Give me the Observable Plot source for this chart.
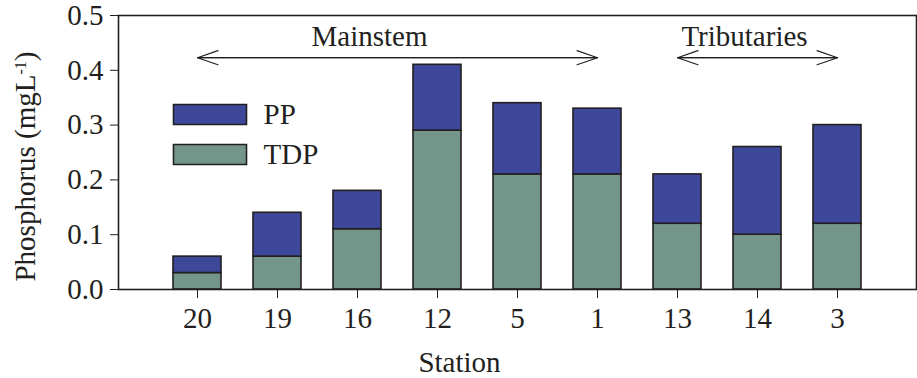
<!DOCTYPE html>
<html><head><meta charset="utf-8">
<script src="https://cdn.jsdelivr.net/npm/d3@7"></script>
<script src="https://cdn.jsdelivr.net/npm/@observablehq/plot@0.6"></script>
<style>body{margin:0;background:#fff}</style>
</head><body><div id="chart"></div>
<script>
// ---- data ----
const stations = ["20", "19", "16", "12", "5", "1", "13", "14", "3"];
const tdp = [0.03, 0.06, 0.11, 0.29, 0.21, 0.21, 0.12, 0.10, 0.12];
const pp  = [0.03, 0.08, 0.07, 0.12, 0.13, 0.12, 0.09, 0.16, 0.18];
const seriesNames = ["TDP", "PP"];
const seriesColors = ["#74968a", "#3d489b"];
const legendOrder = ["PP", "TDP"];
const yTicks = [0, 0.1, 0.2, 0.3, 0.4, 0.5];
const groupNames = ["Mainstem", "Tributaries"];
const groupFrom = ["20", "13"];
const groupTo = ["1", "3"];
const groupLabelAt = ["16", "14"];
const xLabel = "Station";
const yLabel = "Phosphorus (mgL-1)";

const rows = stations.flatMap((s, i) => [
  {station: s, type: "TDP", value: tdp[i]},
  {station: s, type: "PP", value: pp[i]}
]);
const groups = groupNames.map((g, i) => ({name: g, from: groupFrom[i], to: groupTo[i], at: groupLabelAt[i]}));

const ink = "#231f20";
const rectSymbol = {draw(ctx) { ctx.rect(-36.5, -10, 73, 20); }};
const colorOf = Object.fromEntries(seriesNames.map((s, i) => [s, seriesColors[i]]));

const legendMarks = legendOrder.flatMap((name, i) => [
  Plot.dot([name], {frameAnchor: "top-left", dx: 91.5, dy: 99 + 40 * i, symbol: rectSymbol,
    fill: colorOf[name], stroke: ink, strokeWidth: 1.6}),
  Plot.text([name], {frameAnchor: "top-left", dx: 145, dy: 99 + 40 * i, text: d => d, textAnchor: "start", lineAnchor: "middle"})
]);

const groupLabelMarks = groups.map((g, i) =>
  Plot.text([g], {x: "at", y: 0.461, text: "name", dx: i === 0 ? 12 : -13, lineAnchor: "middle"})
);

const chart = Plot.plot({
  width: 917,
  height: 378,
  marginTop: 15,
  marginBottom: 89,
  marginLeft: 118,
  marginRight: 1,
  style: {fontFamily: "'Liberation Serif', 'Times New Roman', serif", fontSize: "29px", color: ink, background: "white"},
  x: {type: "band", domain: stations, paddingInner: 0.4, paddingOuter: 0.641, tickSize: 9, tickPadding: 9, label: null},
  y: {domain: [0, 0.5], ticks: yTicks, tickFormat: d3.format(".1f"), tickSize: 8, tickPadding: 7, label: null},
  color: {domain: seriesNames, range: seriesColors},
  marks: [
    Plot.barY(rows, {x: "station", y: "value", fill: "type", order: seriesNames, stroke: ink, strokeWidth: 1.6}),
    Plot.arrow(groups, {x1: "from", x2: "to", y1: 0.423, y2: 0.423, stroke: ink, strokeWidth: 1.2, headLength: 27, headAngle: 38}),
    Plot.arrow(groups, {x1: "to", x2: "from", y1: 0.423, y2: 0.423, stroke: ink, strokeWidth: 1.2, headLength: 27, headAngle: 38}),
    ...groupLabelMarks,
    ...legendMarks,
    Plot.text([xLabel], {frameAnchor: "bottom", text: d => d, dx: -58, dy: 73, lineAnchor: "middle"}),
    Plot.text([yLabel], {frameAnchor: "left", text: d => d, rotate: -90, dx: -93, dy: 14, lineAnchor: "middle", textAnchor: "middle"}),
    Plot.frame({stroke: ink, strokeWidth: 1.6})
  ]
});
document.getElementById("chart").appendChild(chart);

// superscript for the unit in the y label
d3.select(chart).selectAll("text").filter(function() { return this.textContent === yLabel; })
  .each(function() {
    const t = d3.select(this);
    t.text(null).attr("text-anchor", "middle");
    t.append("tspan").text("Phosphorus (mgL");
    t.append("tspan").attr("dy", "-9px").attr("font-size", "16px").text("-1");
    t.append("tspan").attr("dy", "9px").text(")");
  });
</script>
</body></html>
